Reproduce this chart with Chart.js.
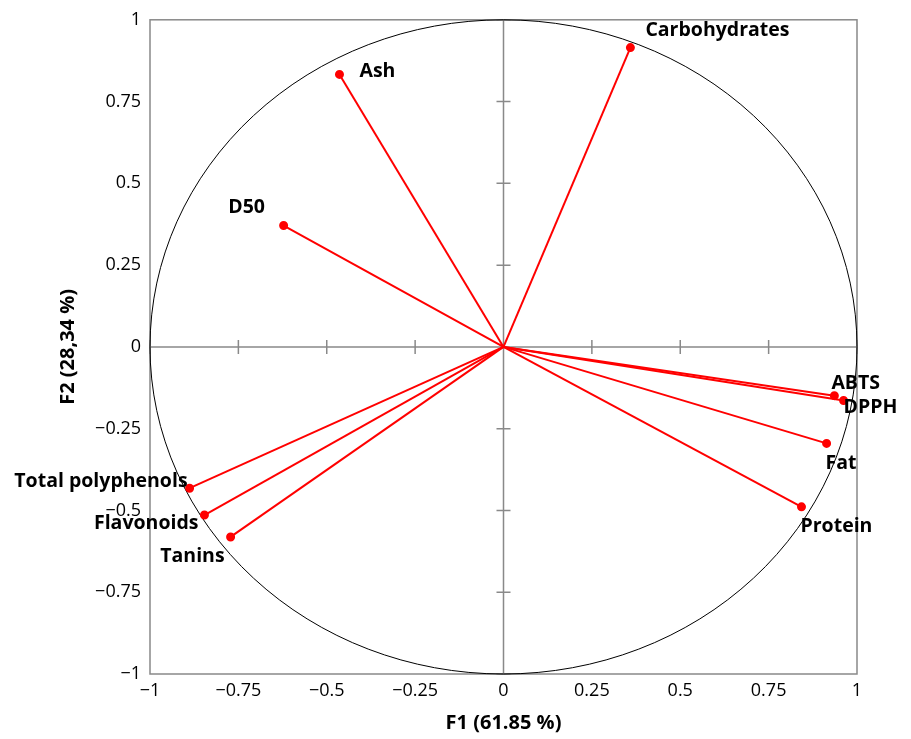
<!DOCTYPE html>
<html>
<head>
<meta charset="utf-8">
<script src="https://cdn.jsdelivr.net/npm/chart.js@4.4.0/dist/chart.umd.min.js"></script>
<style>
  html, body { margin: 0; padding: 0; background: #fff; }
  #wrap { width: 911px; height: 739px; }
</style>
</head>
<body>
<div id="wrap"><canvas id="circleChart" width="911" height="739"></canvas></div>
<script>
// variables and their loadings on F1 / F2
var variables = ['Carbohydrates', 'Ash', 'D50', 'ABTS', 'DPPH', 'Fat', 'Protein', 'Total polyphenols', 'Flavonoids', 'Tanins'];
var f1 = [0.359, -0.464, -0.622, 0.936, 0.962, 0.914, 0.843, -0.888, -0.846, -0.772];
var f2 = [0.915, 0.833, 0.371, -0.149, -0.164, -0.295, -0.489, -0.432, -0.514, -0.581];
var axisTicks = [-1, -0.75, -0.5, -0.25, 0, 0.25, 0.5, 0.75, 1];
var xTitle = 'F1 (61.85 %)';
var yTitle = 'F2 (28,34 %)';

// where each name sits relative to its point: [dx, dy, align]
var labelPlace = {
    'Carbohydrates': [15, -17, 'left'],
    'Ash': [20, -3, 'left'],
    'D50': [-37, -18, 'center'],
    'ABTS': [-3, -12, 'left'],
    'DPPH': [0, 7, 'left'],
    'Fat': [-1, 20, 'left'],
    'Protein': [-1, 20, 'left'],
    'Total polyphenols': [-2, -7, 'right'],
    'Flavonoids': [-6, 8, 'right'],
    'Tanins': [-6, 19, 'right']
};

var gray = '#898989';
var fontFam = '"Open Sans", Lato, sans-serif';

function fmt(v) {
    var s = String(Math.abs(v));
    return v < 0 ? '\u2212' + s : s;
}

var datasets = variables.map(function (name, i) {
    return {
        label: name,
        data: [{ x: 0, y: 0 }, { x: f1[i], y: f2[i] }],
        borderColor: '#ff0000',
        backgroundColor: '#ff0000',
        borderWidth: 2,
        pointRadius: [0, 3.5],
        pointHoverRadius: [0, 3.5],
        showLine: true,
        fill: false
    };
});

var circlePlugin = {
    id: 'circlePlugin',
    beforeDatasetsDraw: function (chart) {
        var ctx = chart.ctx, xs = chart.scales.x, ys = chart.scales.y, a = chart.chartArea;
        var cx = xs.getPixelForValue(0), cy = ys.getPixelForValue(0);
        var rx = xs.getPixelForValue(1) - cx, ry = cy - ys.getPixelForValue(1);
        ctx.save();
        // box
        ctx.strokeStyle = gray;
        ctx.lineWidth = 1.5;
        ctx.strokeRect(a.left, a.top, a.right - a.left, a.bottom - a.top);
        // zero lines with tick crosses
        ctx.beginPath();
        ctx.moveTo(a.left, cy); ctx.lineTo(a.right, cy);
        ctx.moveTo(cx, a.top); ctx.lineTo(cx, a.bottom);
        axisTicks.forEach(function (t) {
            var px = xs.getPixelForValue(t), py = ys.getPixelForValue(t);
            ctx.moveTo(px, cy - 7); ctx.lineTo(px, cy + 7);
            ctx.moveTo(cx - 7, py); ctx.lineTo(cx + 7, py);
        });
        ctx.stroke();
        // unit circle
        ctx.strokeStyle = '#000';
        ctx.lineWidth = 1;
        ctx.beginPath();
        ctx.ellipse(cx, cy, rx, ry, 0, 0, Math.PI * 2);
        ctx.stroke();
        ctx.restore();
    },
    afterDatasetsDraw: function (chart) {
        var ctx = chart.ctx, xs = chart.scales.x, ys = chart.scales.y;
        ctx.save();
        ctx.fillStyle = '#000';
        ctx.font = 'bold 19.5px ' + fontFam;
        ctx.textBaseline = 'middle';
        variables.forEach(function (name, i) {
            var p = labelPlace[name];
            ctx.textAlign = p[2];
            ctx.fillText(name, xs.getPixelForValue(f1[i]) + p[0], ys.getPixelForValue(f2[i]) + p[1]);
        });
        // axis titles
        ctx.font = 'bold 20px ' + fontFam;
        ctx.textAlign = 'center';
        ctx.fillText(xTitle, xs.getPixelForValue(0), 723);
        ctx.translate(68, ys.getPixelForValue(0));
        ctx.rotate(-Math.PI / 2);
        ctx.fillText(yTitle, 0, 0);
        ctx.restore();
    }
};

var ctx = document.getElementById('circleChart').getContext('2d');
var myChart = new Chart(ctx, {
    type: 'scatter',
    data: { datasets: datasets },
    options: {
        responsive: false,
        animation: false,
        layout: { padding: { top: 16, right: 54, left: 0, bottom: 0 } },
        plugins: { legend: { display: false }, tooltip: { enabled: false } },
        scales: {
            x: {
                type: 'linear', min: -1, max: 1,
                afterFit: function (s) { s.height = 65; },
                afterBuildTicks: function (s) { s.ticks = axisTicks.map(function (v) { return { value: v }; }); },
                grid: { display: false, drawTicks: false },
                border: { display: false },
                ticks: { padding: 6, color: '#000', font: { family: fontFam, size: 18 }, callback: fmt, maxRotation: 0, autoSkip: false }
            },
            y: {
                type: 'linear', min: -1, max: 1,
                afterFit: function (s) { s.width = 150; },
                afterBuildTicks: function (s) { s.ticks = axisTicks.map(function (v) { return { value: v }; }); },
                grid: { display: false, drawTicks: false },
                border: { display: false },
                ticks: { padding: 9, color: '#000', font: { family: fontFam, size: 18 }, callback: fmt, autoSkip: false }
            }
        }
    },
    plugins: [circlePlugin]
});
</script>
</body>
</html>
